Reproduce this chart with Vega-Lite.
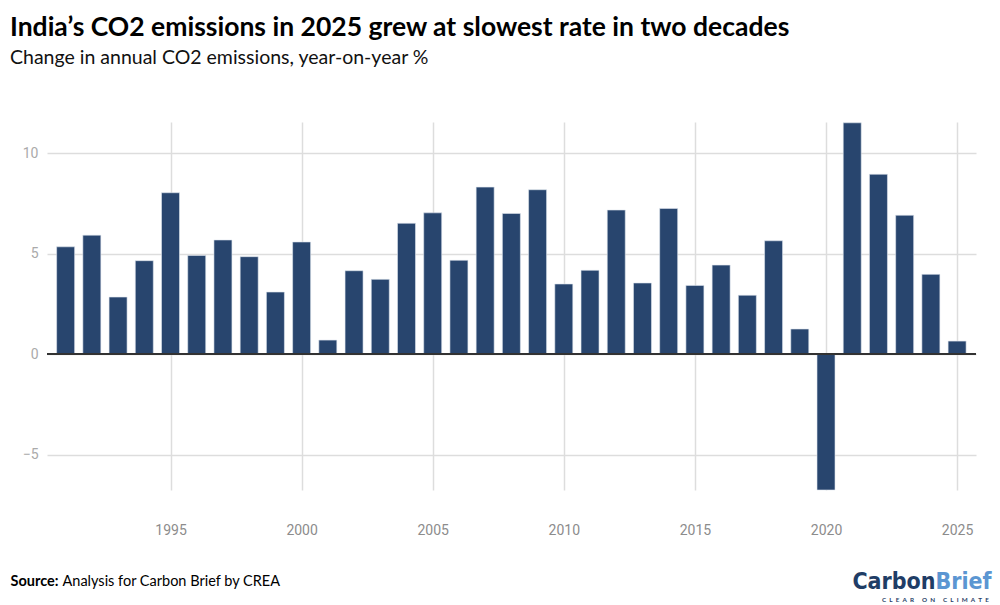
{
  "$schema": "https://vega.github.io/schema/vega-lite/v6.json",
  "width": 929,
  "height": 368,
  "autosize": {"type": "none"},
  "padding": {"left": 47, "top": 122, "right": 24, "bottom": 115},
  "background": "white",
  "title": {
    "text": "India\u2019s CO2 emissions in 2025 grew at slowest rate in two decades",
    "subtitle": "Change in annual CO2 emissions, year-on-year %",
    "anchor": "start",
    "frame": "group",
    "dx": -37,
    "offset": 55,
    "font": "Lato",
    "fontSize": 26.5,
    "fontWeight": "bold",
    "color": "#000000",
    "subtitleFont": "Lato",
    "subtitleFontSize": 19.5,
    "subtitleColor": "#111111",
    "subtitlePadding": 7
  },
  "config": {
    "view": {"stroke": null},
    "axis": {"labelFont": "Roboto", "titleFont": "Lato"}
  },
  "data": {
    "values": [
      {"year": 1991, "change": 5.35},
      {"year": 1992, "change": 5.93},
      {"year": 1993, "change": 2.85},
      {"year": 1994, "change": 4.66},
      {"year": 1995, "change": 8.04},
      {"year": 1996, "change": 4.92},
      {"year": 1997, "change": 5.69},
      {"year": 1998, "change": 4.86},
      {"year": 1999, "change": 3.10},
      {"year": 2000, "change": 5.59},
      {"year": 2001, "change": 0.71},
      {"year": 2002, "change": 4.16},
      {"year": 2003, "change": 3.73},
      {"year": 2004, "change": 6.52},
      {"year": 2005, "change": 7.04},
      {"year": 2006, "change": 4.68},
      {"year": 2007, "change": 8.32},
      {"year": 2008, "change": 7.01},
      {"year": 2009, "change": 8.19},
      {"year": 2010, "change": 3.50},
      {"year": 2011, "change": 4.18},
      {"year": 2012, "change": 7.18},
      {"year": 2013, "change": 3.55},
      {"year": 2014, "change": 7.26},
      {"year": 2015, "change": 3.43},
      {"year": 2016, "change": 4.44},
      {"year": 2017, "change": 2.94},
      {"year": 2018, "change": 5.65},
      {"year": 2019, "change": 1.26},
      {"year": 2020, "change": -6.75},
      {"year": 2021, "change": 11.52},
      {"year": 2022, "change": 8.96},
      {"year": 2023, "change": 6.92},
      {"year": 2024, "change": 3.98},
      {"year": 2025, "change": 0.66}
    ]
  },
  "resolve": {"axis": {"x": "independent", "y": "independent"}},
  "layer": [
    {
      "mark": {"type": "bar", "width": 18, "stroke": "#dfe6ef", "strokeWidth": 0.6},
      "encoding": {
        "x": {
          "field": "year",
          "type": "quantitative",
          "scale": {"domain": [1990.48, 2025.53], "nice": false, "zero": false},
          "axis": {
            "orient": "bottom",
            "values": [1995, 2000, 2005, 2010, 2015, 2020, 2025],
            "format": "d",
            "grid": true,
            "gridColor": "#dddddd",
            "gridWidth": 1.5,
            "domain": false,
            "ticks": false,
            "labelPadding": 33,
            "labelBaseline": "top",
            "labelFontSize": 14,
            "labelColor": "#8c8c8c",
            "title": "Source:",
            "titleFont": "Lato",
            "titleFontWeight": "bold",
            "titleFontSize": 14.5,
            "titleColor": "#000000",
            "titleAngle": 0,
            "titleAlign": "left",
            "titleBaseline": "alphabetic",
            "titleX": -37,
            "titleY": 95
          }
        },
        "y": {
          "field": "change",
          "type": "quantitative",
          "scale": {"domain": [-6.75, 11.56], "nice": false, "zero": false},
          "axis": {
            "orient": "left",
            "values": [-5, 0, 5, 10],
            "grid": true,
            "gridColor": "#dddddd",
            "gridWidth": 1.5,
            "domain": false,
            "ticks": false,
            "labelPadding": 9,
            "labelFontSize": 14,
            "labelColor": "#aaaaaa",
            "title": "Carbon",
            "titleFont": "DejaVu Sans Condensed",
            "titleFontWeight": "bold",
            "titleFontSize": 23,
            "titleColor": "#1f3d66",
            "titleAngle": 0,
            "titleAlign": "right",
            "titleBaseline": "alphabetic",
            "titleX": 888,
            "titleY": 466
          }
        },
        "color": {
          "datum": "India",
          "type": "nominal",
          "scale": {"range": ["#28456e"]},
          "legend": {
            "orient": "none",
            "legendX": 835,
            "legendY": 475,
            "padding": 0,
            "title": "C\u2002L\u2002E\u2002A\u2002R\u2003\u2002O\u2002N\u2003\u2002C\u2002L\u2002I\u2002M\u2002A\u2002T\u2002E",
            "titleFont": "Lato",
            "titleFontSize": 6.3,
            "titleFontWeight": "bold",
            "titleColor": "#1f3d66",
            "titleBaseline": "top",
            "titleLimit": 300,
            "symbolOpacity": 0,
            "symbolStrokeWidth": 0,
            "labelExpr": "''",
            "symbolSize": 1
          }
        }
      }
    },
    {
      "mark": {"type": "bar", "width": 18, "opacity": 0},
      "encoding": {
        "x": {
          "field": "year",
          "type": "quantitative",
          "axis": {
            "orient": "top",
            "grid": false,
            "domain": false,
            "ticks": false,
            "labels": false,
            "title": "Analysis for Carbon Brief by CREA",
            "titleFont": "Lato",
            "titleFontWeight": "normal",
            "titleFontSize": 14.5,
            "titleColor": "#000000",
            "titleAngle": 0,
            "titleAlign": "left",
            "titleBaseline": "alphabetic",
            "titleX": 15,
            "titleY": 463
          }
        },
        "y": {
          "field": "change",
          "type": "quantitative",
          "axis": {
            "orient": "right",
            "grid": false,
            "domain": false,
            "ticks": false,
            "labels": false,
            "title": "Brief",
            "titleFont": "DejaVu Sans Condensed",
            "titleFontWeight": "bold",
            "titleFontSize": 23,
            "titleColor": "#5b96d2",
            "titleAngle": 0,
            "titleAlign": "left",
            "titleBaseline": "alphabetic",
            "titleX": -41,
            "titleY": 466
          }
        }
      }
    },
    {
      "mark": {"type": "rule", "color": "#333333", "strokeWidth": 1.5},
      "encoding": {
        "y": {"datum": 0, "type": "quantitative", "axis": null}
      }
    }
  ]
}
